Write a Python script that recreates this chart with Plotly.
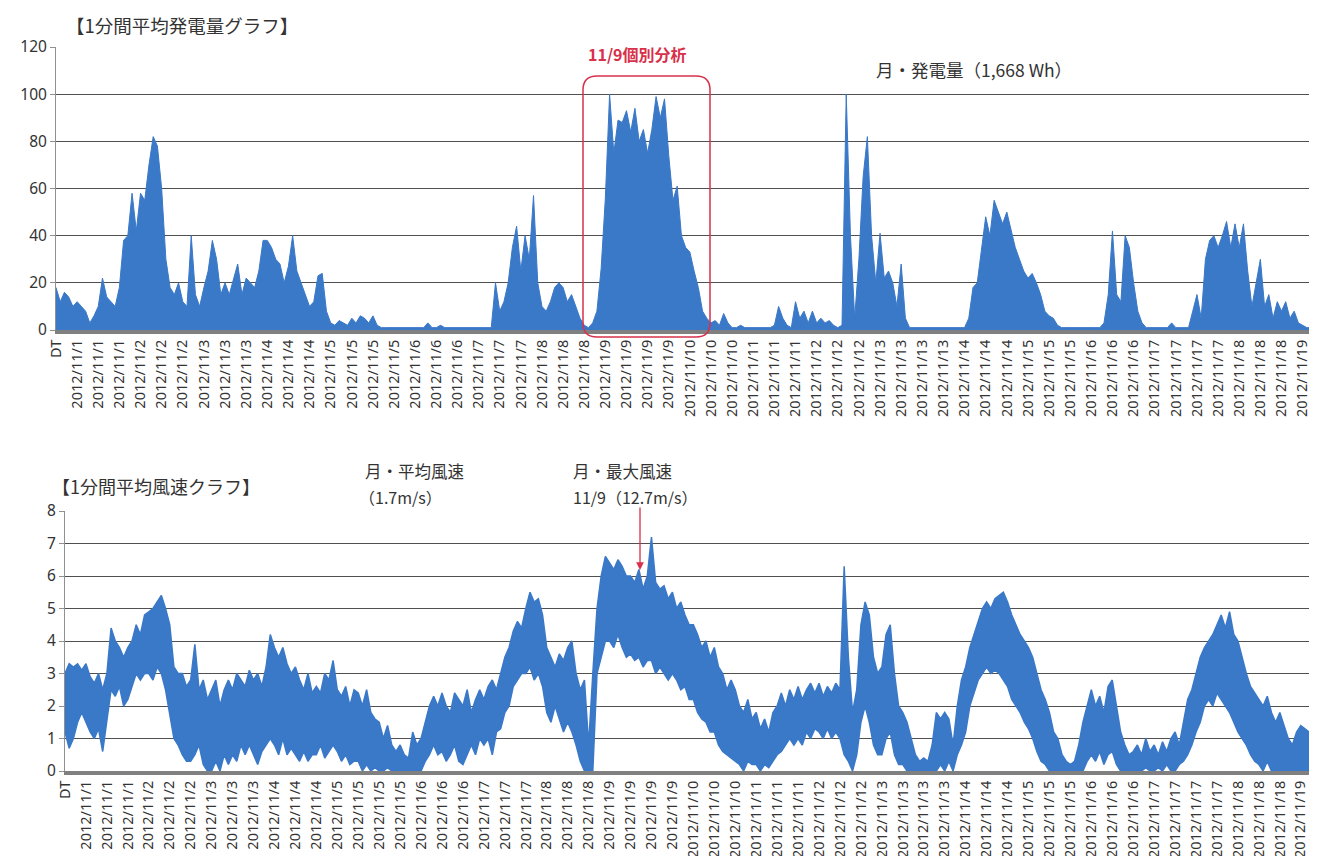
import plotly.graph_objects as go

W, H = 1317, 856
STEP = 90          # minutes represented by one sample
X_END = 26920      # end of the category axis (minutes)

# ---- category tick labels (one every 450 one-minute rows) ----
tick_labels = ["DT",
    "2012/11/1", "2012/11/1", "2012/11/1",
    "2012/11/2", "2012/11/2", "2012/11/2",
    "2012/11/3", "2012/11/3", "2012/11/3",
    "2012/11/4", "2012/11/4", "2012/11/4",
    "2012/11/5", "2012/11/5", "2012/11/5", "2012/11/5",
    "2012/11/6", "2012/11/6", "2012/11/6",
    "2012/11/7", "2012/11/7", "2012/11/7",
    "2012/11/8", "2012/11/8", "2012/11/8",
    "2012/11/9", "2012/11/9", "2012/11/9", "2012/11/9",
    "2012/11/10", "2012/11/10", "2012/11/10",
    "2012/11/11", "2012/11/11", "2012/11/11",
    "2012/11/12", "2012/11/12", "2012/11/12",
    "2012/11/13", "2012/11/13", "2012/11/13", "2012/11/13",
    "2012/11/14", "2012/11/14", "2012/11/14",
    "2012/11/15", "2012/11/15", "2012/11/15",
    "2012/11/16", "2012/11/16", "2012/11/16",
    "2012/11/17", "2012/11/17", "2012/11/17", "2012/11/17",
    "2012/11/18", "2012/11/18", "2012/11/18",
    "2012/11/19"]
tick_pos = [i * 450 for i in range(len(tick_labels))]

# ---- 1-minute mean power (W), sampled every 90 min ----
power = [
    18, 12, 16, 14, 10,   12, 10, 8, 3, 6,   10, 22, 14, 12, 10,   18, 38, 40, 58, 42,
    58, 55, 70, 82, 78,   60, 30, 18, 15, 20,   12, 10, 40, 15, 10,   18, 25, 38, 30, 15,
    20, 15, 22, 28, 15,   22, 20, 18, 25, 38,   38, 35, 30, 28, 20,   27, 40, 25, 20, 15,
    10, 12, 23, 24, 8,    3, 2, 4, 3, 2,        5, 3, 6, 5, 3,        6, 2, 1, 1, 1,
    1, 1, 1, 1, 1,        1, 1, 1, 3, 1,        1, 2, 1, 1, 1,        1, 1, 1, 1, 1,
    1, 1, 1, 1, 20,       8, 12, 20, 35, 44,    25, 40, 30, 57, 20,   10, 8, 12, 18, 20,
    18, 12, 15, 10, 5,    2, 1, 3, 8, 26,       56, 100, 75, 89, 88,  93, 84, 94, 80, 85,
    75, 85, 99, 90, 98,   74, 55, 61, 40, 35,   33, 25, 18, 8, 5,     3, 4, 2, 7, 3,
    1, 1, 2, 1, 1,        1, 1, 1, 1, 1,        2, 10, 5, 2, 1,       12, 5, 8, 3, 8,
    3, 5, 3, 4, 2,        1, 2, 100, 40, 5,     30, 65, 82, 40, 20,   41, 22, 25, 20, 10,
    28, 5, 1, 1, 1,       1, 1, 1, 1, 1,        1, 1, 1, 1, 1,        1, 5, 18, 20, 35,
    48, 40, 55, 50, 45,   50, 42, 35, 30, 25,   22, 24, 20, 15, 8,    6, 5, 2, 1, 1,
    1, 1, 1, 1, 1,        1, 1, 1, 3, 15,       42, 15, 12, 40, 35,   20, 8, 3, 1, 1,
    1, 1, 1, 1, 3,        1, 1, 1, 1, 8,        15, 5, 30, 38, 40,    35, 40, 46, 35, 45,
    35, 45, 25, 10, 20,   30, 10, 15, 5, 12,    8, 12, 5, 8, 3,       2, 1, 1, 4, 3,
]

# ---- 1-minute mean wind speed (m/s): upper / lower envelope per 90 min ----
wind_hi = [
    3.0, 3.3, 3.2, 3.3, 3.1,  3.3, 2.9, 2.7, 3.0, 2.5,  3.0, 4.4, 4.0, 3.8, 3.5,  3.8, 4.0, 4.5, 4.2, 4.8,
    4.9, 5.0, 5.2, 5.4, 5.0,  4.5, 3.2, 3.0, 3.0, 2.6,  2.8, 3.9, 2.5, 2.8, 2.2,  2.5, 2.8, 2.0, 2.5, 2.8,
    2.5, 3.0, 2.8, 2.6, 3.1,  2.8, 3.0, 2.6, 3.2, 4.2,  3.8, 3.5, 3.8, 3.3, 3.0,  3.2, 2.8, 2.5, 3.0, 2.4,
    2.6, 2.4, 3.0, 2.8, 3.4,  2.5, 2.3, 2.6, 2.0, 2.5,  2.4, 2.0, 2.5, 1.8, 1.6,  1.5, 1.0, 1.4, 0.8, 0.6,
    0.8, 0.5, 0.4, 1.2, 0.8,  1.0, 1.5, 2.0, 2.3, 2.0,  2.4, 2.0, 1.8, 2.4, 2.2,  2.0, 2.5, 1.8, 2.2, 2.5,
    2.2, 2.6, 2.8, 2.5, 3.0,  3.5, 3.8, 4.3, 4.6, 4.4,  5.0, 5.5, 5.2, 5.3, 4.8,  3.8, 3.5, 3.2, 3.6, 3.4,
    3.8, 4.0, 3.0, 2.5, 2.8,  0.8, 3.0, 5.0, 6.0, 6.6,  6.4, 6.2, 6.5, 6.3, 6.0,  6.0, 5.8, 6.2, 5.6, 6.0,
    7.2, 5.8, 5.6, 5.7, 5.3,  5.5, 5.0, 5.2, 4.8, 4.5,  4.5, 4.2, 3.8, 4.0, 3.5,  3.8, 3.2, 3.0, 2.5, 2.8,
    2.5, 2.0, 1.8, 2.2, 1.6,  1.8, 1.3, 1.6, 1.2, 1.8,  2.0, 2.4, 2.0, 2.5, 2.2,  2.6, 2.2, 2.5, 2.7, 2.4,
    2.7, 2.3, 2.6, 2.4, 2.7,  2.5, 6.3, 3.5, 1.8, 2.5,  4.5, 5.2, 4.8, 3.5, 3.0,  3.2, 4.2, 4.5, 3.0, 2.0,
    1.8, 1.5, 1.0, 0.5, 0.3,  0.4, 0.3, 0.8, 1.8, 1.6,  1.8, 1.6, 0.8, 2.0, 2.8,  3.2, 3.8, 4.2, 4.6, 5.0,
    5.2, 5.0, 5.3, 5.4, 5.5,  5.2, 4.8, 4.5, 4.2, 4.0,  3.8, 3.5, 3.0, 2.5, 2.2,  1.8, 1.2, 1.0, 0.5, 0.3,
    0.2, 0.3, 0.8, 1.5, 2.0,  2.5, 2.0, 2.3, 1.8, 2.6,  2.8, 2.0, 1.2, 0.8, 0.5,  0.6, 0.8, 0.5, 1.0, 0.6,
    0.8, 0.5, 0.9, 0.6, 1.0,  1.2, 0.8, 1.5, 2.2, 2.5,  3.0, 3.5, 3.8, 4.0, 4.2,  4.5, 4.8, 4.4, 4.9, 4.2,
    4.0, 3.5, 3.0, 2.6, 2.4,  2.2, 2.0, 2.3, 1.8, 1.5,  1.8, 1.4, 1.0, 0.8, 1.2,  1.4, 1.3, 1.2, 1.0, 0.8,
]
wind_lo = [
    1.2, 0.7, 1.0, 1.5, 1.8,  1.5, 1.2, 1.0, 1.3, 0.6,  1.5, 2.5, 2.3, 2.6, 2.0,  2.2, 2.6, 3.0, 2.8, 3.0,
    3.0, 2.8, 3.2, 3.0, 2.5,  1.8, 1.0, 0.8, 0.5, 0.3,  0.3, 0.5, 0.8, 0.2, 0.0,  0.0, 0.3, 0.0, 0.5, 0.2,
    0.5, 0.3, 0.8, 0.5, 0.8,  0.5, 0.2, 0.6, 0.8, 1.0,  0.8, 0.5, 1.0, 0.5, 0.7,  0.5, 0.3, 0.6, 0.3, 0.5,
    0.5, 0.8, 0.4, 0.6, 0.8,  0.6, 0.3, 0.5, 0.2, 0.3,  0.3, 0.0, 0.2, 0.0, 0.1,  0.0, 0.0, 0.1, 0.0, 0.0,
    0.0, 0.0, 0.0, 0.0, 0.0,  0.0, 0.3, 0.5, 0.8, 0.5,  0.6, 0.3, 0.5, 0.8, 0.3,  0.2, 0.5, 0.8, 0.5, 1.0,
    0.8, 1.0, 0.5, 1.2, 1.3,  1.8, 2.0, 2.6, 2.8, 3.0,  3.0, 3.2, 2.8, 3.0, 2.6,  1.8, 1.5, 2.0, 1.6, 1.2,
    1.5, 1.2, 0.8, 0.3, 0.0,  0.0, 0.0, 3.0, 3.5, 4.0,  4.0, 3.8, 4.2, 3.8, 3.5,  3.6, 3.4, 3.5, 3.2, 3.4,
    3.4, 3.0, 3.2, 3.0, 2.8,  3.0, 2.8, 2.5, 2.6, 2.2,  2.2, 1.8, 1.6, 1.5, 1.2,  1.2, 0.8, 0.6, 0.5, 0.4,
    0.3, 0.2, 0.0, 0.3, 0.2,  0.2, 0.0, 0.2, 0.1, 0.3,  0.5, 0.6, 0.8, 1.0, 0.8,  1.0, 0.8, 1.2, 1.0, 1.3,
    1.2, 1.0, 1.3, 1.0, 1.2,  1.0, 0.5, 0.3, 0.0, 0.5,  1.5, 2.0, 1.5, 0.8, 0.5,  0.5, 1.0, 1.2, 0.5, 0.2,
    0.2, 0.0, 0.0, 0.0, 0.0,  0.0, 0.0, 0.0, 0.0, 0.2,  0.0, 0.3, 0.0, 0.5, 0.8,  1.2, 2.0, 2.4, 2.8, 3.0,
    3.2, 3.0, 3.1, 3.0, 2.8,  2.6, 2.2, 2.0, 1.8, 1.5,  1.3, 1.0, 0.6, 0.3, 0.2,  0.0, 0.0, 0.0, 0.0, 0.0,
    0.0, 0.0, 0.0, 0.0, 0.3,  0.5, 0.3, 0.6, 0.2, 0.5,  0.6, 0.2, 0.0, 0.0, 0.0,  0.0, 0.0, 0.0, 0.1, 0.0,
    0.0, 0.1, 0.0, 0.2, 0.0,  0.0, 0.2, 0.3, 0.5, 0.8,  1.2, 1.5, 2.0, 2.2, 2.0,  2.4, 2.2, 2.0, 1.8, 1.5,
    1.2, 1.0, 0.8, 0.5, 0.3,  0.2, 0.0, 0.3, 0.0, 0.0,  0.0, 0.0, 0.0, 0.0, 0.0,  0.0, 0.0, 0.0, 0.0, 0.0,
]

x_power = [i * STEP for i in range(len(power))]
x_wind = [i * STEP for i in range(len(wind_hi))]

BLUE = "#3A78C8"
RED = "#D8304A"
GRID = "#505050"
FONT = "Noto Sans CJK JP"


def px(x):
    return x / W


def py(y):
    return 1 - y / H


fig = go.Figure()

fig.add_trace(go.Scatter(x=x_power, y=power, mode="lines", fill="tozeroy",
                         line=dict(color=BLUE, width=1), fillcolor=BLUE,
                         xaxis="x", yaxis="y", showlegend=False))
fig.add_trace(go.Scatter(x=x_wind, y=wind_lo, mode="lines",
                         line=dict(color=BLUE, width=1.5),
                         xaxis="x2", yaxis="y2", showlegend=False))
fig.add_trace(go.Scatter(x=x_wind, y=wind_hi, mode="lines", fill="tonexty",
                         line=dict(color=BLUE, width=1.5), fillcolor=BLUE,
                         xaxis="x2", yaxis="y2", showlegend=False))

xaxis_common = dict(range=[0, X_END], tickmode="array", tickvals=tick_pos,
                    ticktext=tick_labels, tickangle=-90, showgrid=False,
                    zeroline=False, showline=True, linecolor="#808080", linewidth=4,
                    ticks="", tickfont=dict(family="Noto Sans", size=14.5, color="#333"),
                    automargin=False, fixedrange=True)
yaxis_common = dict(showgrid=True, gridcolor=GRID, gridwidth=1, zeroline=False,
                    showline=True, linecolor="#909090", linewidth=1, ticks="outside",
                    ticklen=5, tickcolor="#909090",
                    tickfont=dict(family="Noto Sans", size=15.5, color="#333"),
                    automargin=False, fixedrange=True)

fig.update_layout(
    width=W, height=H, margin=dict(l=0, r=0, t=0, b=0),
    paper_bgcolor="white", plot_bgcolor="white",
    xaxis=dict(domain=[px(48), px(1312)], anchor="y", **xaxis_common),
    yaxis=dict(domain=[py(322), py(39)], anchor="x", range=[0, 120], dtick=20, **yaxis_common),
    xaxis2=dict(domain=[px(57), px(1310)], anchor="y2", **xaxis_common),
    yaxis2=dict(domain=[py(763), py(503)], anchor="x2", range=[0, 8], dtick=1, **yaxis_common),
)

annos = [
    dict(text="【1分間平均発電量グラフ】", x=px(56), y=py(17), size=18.5, color="#333"),
    dict(text="<b>11/9個別分析</b>", x=px(578), y=py(46), size=16, color=RED),
    dict(text="月・発電量（1,668 Wh）", x=px(866), y=py(61), size=17.5, color="#333"),
    dict(text="【1分間平均風速クラフ】", x=px(42), y=py(478), size=18, color="#333"),
    dict(text="月・平均風速", x=px(355), y=py(463), size=16.5, color="#333"),
    dict(text="（1.7m/s）", x=px(349), y=py(489), size=16, color="#333"),
    dict(text="月・最大風速", x=px(563), y=py(463), size=16.5, color="#333"),
    dict(text="11/9（12.7m/s）", x=px(563), y=py(489), size=16, color="#333"),
]
for a in annos:
    fig.add_annotation(text=a["text"], x=a["x"], y=a["y"], xref="paper", yref="paper",
                       xanchor="left", yanchor="middle", showarrow=False,
                       font=dict(family=FONT, size=a["size"], color=a["color"]))

# red arrow pointing to max wind
fig.add_annotation(x=px(632), y=py(562), ax=0, ay=-64, xref="paper", yref="paper",
                   axref="pixel", ayref="pixel", text="", showarrow=True,
                   arrowhead=2, arrowsize=1.2, arrowwidth=1.3, arrowcolor=RED)

# red rounded rectangle around 11/9
x0, x1, y0, y1, r = 575, 702, 68, 329, 14
path = (f"M {px(x0 + r)},{py(y0)} L {px(x1 - r)},{py(y0)} "
        f"Q {px(x1)},{py(y0)} {px(x1)},{py(y0 + r)} L {px(x1)},{py(y1 - r)} "
        f"Q {px(x1)},{py(y1)} {px(x1 - r)},{py(y1)} L {px(x0 + r)},{py(y1)} "
        f"Q {px(x0)},{py(y1)} {px(x0)},{py(y1 - r)} L {px(x0)},{py(y0 + r)} "
        f"Q {px(x0)},{py(y0)} {px(x0 + r)},{py(y0)} Z")
fig.add_shape(type="path", path=path, xref="paper", yref="paper",
              line=dict(color=RED, width=1.5), fillcolor="rgba(0,0,0,0)")

fig.write_html("out.html")
